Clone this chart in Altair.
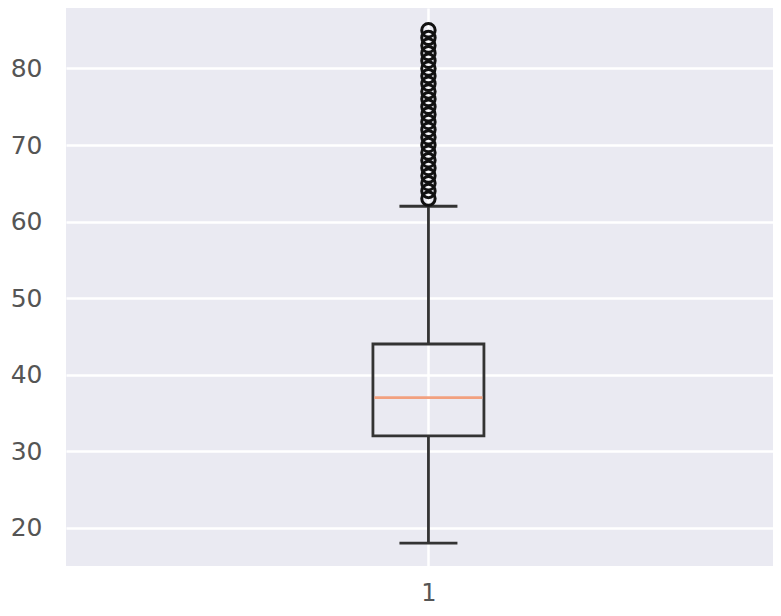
import altair as alt
import pandas as pd

# ---- data ----
category_pos = [1]
q1 = [32]
median = [37]
q3 = [44]
whisker_low = [18]
whisker_high = [62]
outliers = [63, 64, 65, 66, 67, 68, 69, 70, 71, 72, 73, 74, 75, 76, 77, 78,
            79, 80, 81, 82, 83, 84, 85]
y_ticks = [20, 30, 40, 50, 60, 70, 80]
y_domain = [15.0, 87.9]
x_domain = [0.5, 1.475]

stats = pd.DataFrame({
    "x": category_pos, "q1": q1, "median": median, "q3": q3,
    "lo": whisker_low, "hi": whisker_high,
})
fliers = pd.DataFrame({"x": category_pos * len(outliers), "v": outliers})

FONT = "DejaVu Sans"
EDGE = "#333333"

xs = alt.X("x:Q", scale=alt.Scale(domain=x_domain, nice=False, zero=False),
           axis=alt.Axis(values=category_pos, format="d", title=None,
                         grid=True, gridColor="white", gridWidth=2.5,
                         domain=False, ticks=False, labelPadding=15,
                         labelFontSize=24, labelColor="#555555",
                         labelFont=FONT))
ys_scale = alt.Scale(domain=y_domain, nice=False, zero=False)
ys_axis = alt.Axis(values=y_ticks, title=None, grid=True, gridColor="white",
                   gridWidth=2.5, domain=False, ticks=False, labelPadding=24,
                   labelFontSize=25, labelColor="#555555", labelFont=FONT)

base = alt.Chart(stats)

upper_whisker = base.mark_rule(color=EDGE, strokeWidth=2.8).encode(
    x=xs, y=alt.Y("q3:Q", scale=ys_scale, axis=ys_axis), y2="hi:Q")
lower_whisker = base.mark_rule(color=EDGE, strokeWidth=2.8).encode(
    x="x:Q", y="lo:Q", y2="q1:Q")
box = base.mark_bar(size=111, fillOpacity=0, stroke=EDGE, strokeWidth=2.8).encode(
    x="x:Q", y="q1:Q", y2="q3:Q")
med = base.mark_tick(orient="horizontal", size=108, thickness=2.8,
                     color="#F2A07F", opacity=1).encode(x="x:Q", y="median:Q")
cap_hi = base.mark_tick(orient="horizontal", size=58, thickness=2.8,
                        color=EDGE, opacity=1).encode(x="x:Q", y="hi:Q")
cap_lo = base.mark_tick(orient="horizontal", size=58, thickness=2.8,
                        color=EDGE, opacity=1).encode(x="x:Q", y="lo:Q")
pts = alt.Chart(fliers).mark_point(shape="circle", filled=False, size=180,
                                   stroke="#111111", strokeWidth=3,
                                   opacity=1).encode(x="x:Q", y="v:Q")

chart = alt.layer(upper_whisker, lower_whisker, box, med, cap_hi, cap_lo, pts).properties(
    width=707, height=558,
    autosize=alt.AutoSizeParams(type="none"),
    padding={"left": 58, "top": 0, "right": 0, "bottom": 42},
    background="white",
).configure_view(fill="#EAEAF2", stroke=None)

chart.save("out.html", embed_options={"renderer": "svg", "actions": False})
